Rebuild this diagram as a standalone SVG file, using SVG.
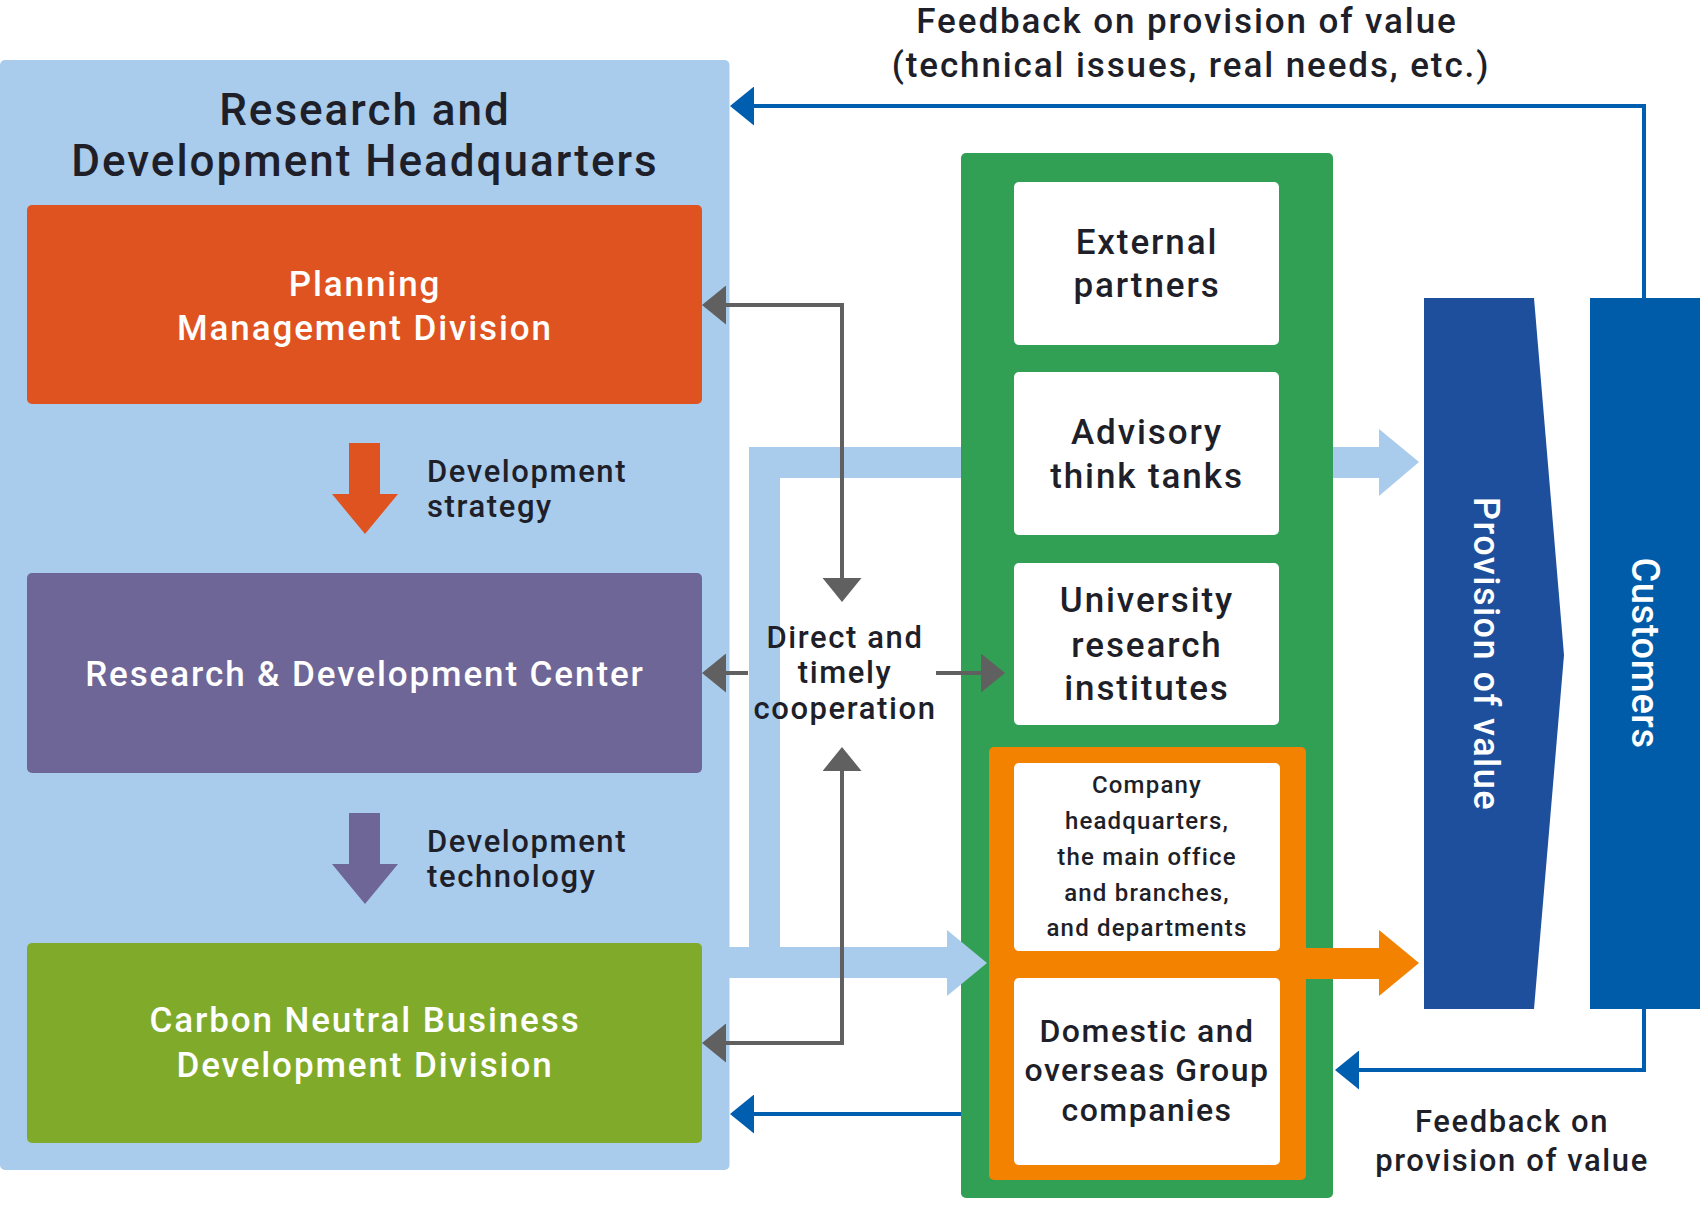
<svg xmlns="http://www.w3.org/2000/svg" width="1700" height="1224" viewBox="0 0 1700 1224">
<defs>
<style>
text{font-family:Roboto,"Liberation Sans",sans-serif;font-weight:500;}
.dk{fill:#1e1f29;}
.wt{fill:#ffffff;}
.mid{text-anchor:middle;}
.t44{font-size:44px;letter-spacing:2px;}
.t35{font-size:35px;letter-spacing:1.9px;}
.t31{font-size:31px;letter-spacing:1.6px;}
.t32{font-size:32px;letter-spacing:1.5px;}
.t24{font-size:24px;letter-spacing:1.2px;}
.gl{fill:none;stroke:#606060;stroke-width:4;}
.bl{fill:none;stroke:#005eb0;stroke-width:4;}
.lb{fill:#a9cbec;}
.wb{fill:#ffffff;}
</style>
<marker id="ga" markerUnits="userSpaceOnUse" markerWidth="24" markerHeight="39" refX="4" refY="19.5" orient="auto-start-reverse"><path d="M0,0 L24,19.5 L0,39 z" fill="#606060"/></marker>
<marker id="ba" markerUnits="userSpaceOnUse" markerWidth="24" markerHeight="39" refX="4" refY="19.5" orient="auto-start-reverse"><path d="M0,0 L24,19.5 L0,39 z" fill="#005eb0"/></marker>
</defs>
<rect width="1700" height="1224" fill="#ffffff"/>

<g id="rd-headquarters">
<rect x="0" y="60" width="729.5" height="1110" rx="5" class="lb"/>
<text class="dk t44 mid" x="365" y="125">Research and</text>
<text class="dk t44 mid" x="365" y="176">Development Headquarters</text>
</g>

<g id="planning-management">
<rect x="27" y="205" width="675" height="199" rx="5" fill="#df5320"/>
<text class="wt t35 mid" x="365" y="296">Planning</text>
<text class="wt t35 mid" x="365" y="340">Management Division</text>
</g>

<g id="strategy-arrow">
<polygon points="349,443 380,443 380,494 398,494 365,534 332,494 349,494" fill="#df5320"/>
<text class="dk t31" x="427" y="482">Development</text>
<text class="dk t31" x="427" y="517">strategy</text>
</g>

<g id="rd-center">
<rect x="27" y="573" width="675" height="200" rx="5" fill="#6e6696"/>
<text class="wt t35 mid" x="365" y="686">Research &amp; Development Center</text>
</g>

<g id="technology-arrow">
<polygon points="349,813 380,813 380,864 398,864 365,904 332,864 349,864" fill="#6e6696"/>
<text class="dk t31" x="427" y="852">Development</text>
<text class="dk t31" x="427" y="887">technology</text>
</g>

<g id="carbon-neutral">
<rect x="27" y="943" width="675" height="200" rx="5" fill="#80ab2a"/>
<text class="wt t35 mid" x="365" y="1032">Carbon Neutral Business</text>
<text class="wt t35 mid" x="365" y="1077">Development Division</text>
</g>

<g id="light-blue-flow-back">
<rect x="749" y="447" width="212" height="31" class="lb"/>
<rect x="749" y="447" width="31" height="531" class="lb"/>
</g>

<g id="partners-container">
<rect x="961" y="153" width="372" height="1045" rx="5" fill="#32a054"/>
<rect x="989" y="747" width="317" height="433" rx="5" fill="#f28200"/>
</g>

<g id="external-partners">
<rect x="1014" y="182" width="265" height="163" rx="5" class="wb"/>
<text class="dk t35 mid" x="1147" y="254">External</text>
<text class="dk t35 mid" x="1147" y="297">partners</text>
</g>

<g id="advisory-think-tanks">
<rect x="1014" y="372" width="265" height="163" rx="5" class="wb"/>
<text class="dk t35 mid" x="1147" y="444">Advisory</text>
<text class="dk t35 mid" x="1147" y="488">think tanks</text>
</g>

<g id="university-institutes">
<rect x="1014" y="563" width="265" height="162" rx="5" class="wb"/>
<text class="dk t35 mid" x="1147" y="612">University</text>
<text class="dk t35 mid" x="1147" y="657">research</text>
<text class="dk t35 mid" x="1147" y="700">institutes</text>
</g>

<g id="company-hq">
<rect x="1014" y="763" width="266" height="188" rx="5" class="wb"/>
<text class="dk t24 mid" x="1147" y="793">Company</text>
<text class="dk t24 mid" x="1147" y="829">headquarters,</text>
<text class="dk t24 mid" x="1147" y="865">the main office</text>
<text class="dk t24 mid" x="1147" y="901">and branches,</text>
<text class="dk t24 mid" x="1147" y="936">and departments</text>
</g>

<g id="group-companies">
<rect x="1014" y="978" width="266" height="187" rx="5" class="wb"/>
<text class="dk t32 mid" x="1147" y="1042">Domestic and</text>
<text class="dk t32 mid" x="1147" y="1081">overseas Group</text>
<text class="dk t32 mid" x="1147" y="1121">companies</text>
</g>

<g id="provision-of-value">
<polygon points="1424,298 1534,298 1564,655 1534,1009 1424,1009" fill="#1e4f9c"/>
<text class="wt mid" font-size="36" letter-spacing="1.5" transform="translate(1474,654) rotate(90)">Provision of value</text>
</g>

<g id="customers">
<rect x="1590" y="298" width="110" height="711" fill="#005ca9"/>
<text class="wt mid" font-size="38" letter-spacing="0.6" transform="translate(1632,653) rotate(90)">Customers</text>
</g>

<g id="connectors">
<rect x="729" y="947" width="218" height="31" class="lb"/>
<polygon points="947,930 987,963 947,996" class="lb"/>
<rect x="1333" y="447" width="46" height="31" class="lb"/>
<polygon points="1379,429 1419,462 1379,496" class="lb"/>
<rect x="1305" y="948" width="74" height="31" fill="#f28200"/>
<polygon points="1379,930 1419,963 1379,996" fill="#f28200"/>
<path class="gl" d="M722,305 H842 V582" marker-start="url(#ga)" marker-end="url(#ga)"/>
<path class="gl" d="M722,1043 H842 V767" marker-start="url(#ga)" marker-end="url(#ga)"/>
<path class="gl" d="M748,673 H722" marker-end="url(#ga)"/>
<path class="gl" d="M936,673 H985" marker-end="url(#ga)"/>
<path class="bl" d="M1644,298 V106 H750" marker-end="url(#ba)"/>
<path class="bl" d="M1644,1009 V1070 H1355" marker-end="url(#ba)"/>
<path class="bl" d="M961,1114 H750" marker-end="url(#ba)"/>
</g>

<g id="labels">
<text class="dk t35 mid" x="1187" y="33">Feedback on provision of value</text>
<text class="dk t35 mid" x="1191" y="77">(technical issues, real needs, etc.)</text>
<text class="dk t31 mid" x="845" y="648">Direct and</text>
<text class="dk t31 mid" x="845" y="683">timely</text>
<text class="dk t31 mid" x="845" y="719">cooperation</text>
<text class="dk t31 mid" x="1512" y="1132">Feedback on</text>
<text class="dk t31 mid" x="1512" y="1171">provision of value</text>
</g>
</svg>
